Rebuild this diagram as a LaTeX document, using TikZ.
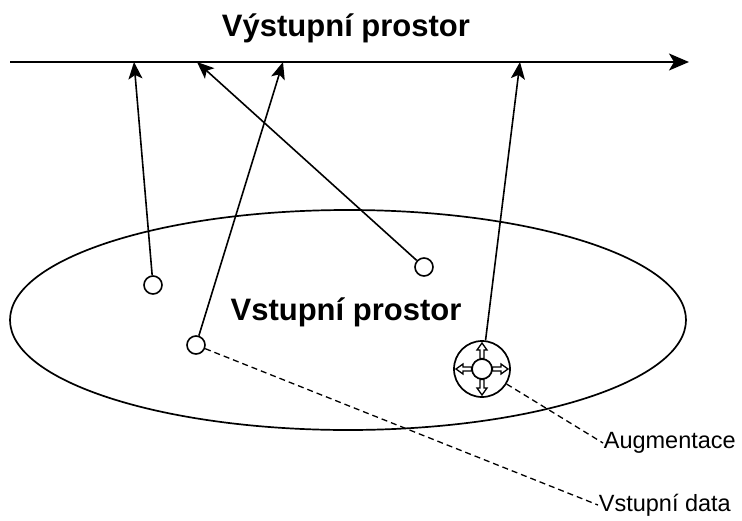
\documentclass[tikz,border=0pt]{standalone}
\usepackage{fontspec}
\setmainfont{Liberation Sans}
\usetikzlibrary{arrows.meta}
\begin{document}
\begin{tikzpicture}[x=1pt,y=-1pt,line width=1.7pt,
  dot/.style={draw,circle,minimum size=18pt,inner sep=0pt,fill=white,line width=1.6pt},
  title/.style={font=\fontsize{31}{35}\selectfont\bfseries,inner sep=0pt},
  lab/.style={font=\fontsize{23.5}{26}\selectfont,inner sep=0pt,anchor=west},
  map/.style={-{Stealth[length=17pt,width=14pt,inset=4pt]},line width=1.6pt},
  hollow/.style={draw,fill=white,line width=1.3pt,line join=miter}]
\useasboundingbox (0,0) rectangle (742,520);
% output axis
\coordinate (a0) at (10,62);
\coordinate (a1) at (689,62);
\draw[-{Stealth[length=20pt,width=17pt,inset=5pt]},line width=1.8pt] (a0) -- (a1);
\node[title] (out) at (346,28) {Výstupní prostor};
% input space
\draw[line width=1.7pt] (348,320) ellipse [x radius=338pt, y radius=110pt];
\node[title] (in) at (346,312) {Vstupní prostor};
% points
\node[dot] (c1) at (153,285) {};
\node[dot] (c2) at (196,345) {};
\node[dot] (c3) at (424,267) {};
\node[draw,circle,minimum size=56pt,inner sep=0pt,line width=1.7pt] (aug) at (482,369) {};
\node[draw,circle,minimum size=20pt,inner sep=0pt,line width=1.7pt] (augin) at (482,369) {};
\foreach \a in {0,90,180,270}{
  \begin{scope}[shift={(482,369)},rotate=\a]
    \draw[hollow] (10.5,-2) -- (19,-2) -- (19,-5) -- (26,0) -- (19,5) -- (19,2) -- (10.5,2) -- cycle;
  \end{scope}}
% targets on axis
\coordinate (t1) at (134,62);
\coordinate (t2) at (197,62);
\coordinate (t3) at (283,62);
\coordinate (t4) at (520,62);
\draw[map] (c1) -- (t1);
\draw[map] (c3) -- (t2);
\draw[map] (c2) -- (t3);
\draw[map] (aug) -- (t4);
% labels
\node[lab] (laug) at (603,443) {Augmentace};
\node[lab] (ldata) at (598,505) {Vstupní data};
\draw[dashed,dash pattern=on 6pt off 4pt,line width=1.3pt] (aug) -- (laug.west);
\draw[dashed,dash pattern=on 6pt off 4pt,line width=1.3pt] (c2) -- (ldata.west);
\end{tikzpicture}
\end{document}
